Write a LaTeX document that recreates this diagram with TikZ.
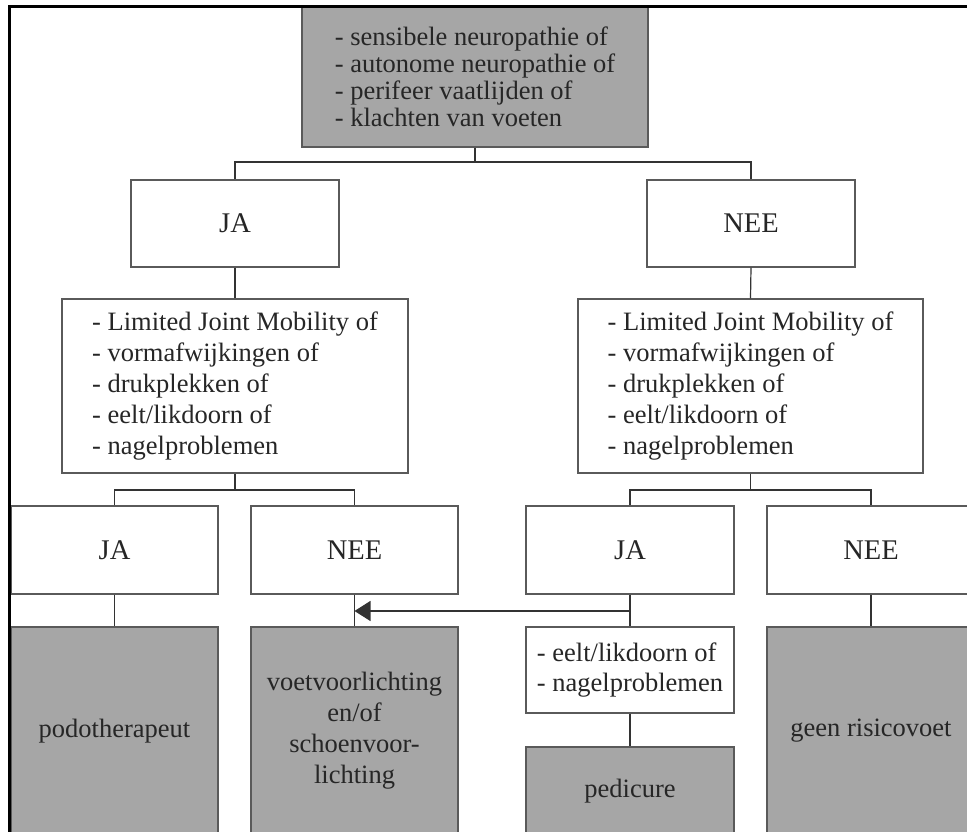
\documentclass[tikz,border=0pt]{standalone}
\usepackage{fontspec}
\setmainfont{Liberation Serif}
\usetikzlibrary{arrows.meta}
\definecolor{boxgray}{HTML}{A6A6A6}
\definecolor{edgegray}{HTML}{5A5A5A}
\definecolor{linegray}{HTML}{333333}
\begin{document}
\begin{tikzpicture}[x=1pt,y=-1pt,
  base/.style={rectangle,draw=edgegray,line width=1.3pt,inner sep=0pt,align=center,
    font=\fontsize{26.5}{31}\selectfont,text=black!85},
  wbox/.style={base,fill=white},
  gbox/.style={base,fill=boxgray},
  yn/.style={font=\fontsize{28.5}{31}\selectfont},
  conn/.style={draw=linegray,line width=1.2pt}]
\useasboundingbox (0,0) rectangle (967,832);
\begin{scope}
\clip (0,0) rectangle (967,832);
\node[gbox,minimum width=346pt,minimum height=140pt,align=left,font=\fontsize{26.5}{27}\selectfont] (top) at (475,77)
  {- sensibele neuropathie of\\- autonome neuropathie of\\- perifeer vaatlijden of\\- klachten van voeten};
\node[wbox,yn,minimum width=208pt,minimum height=87pt] (ja1) at (235,223.5) {JA};
\node[wbox,yn,minimum width=208pt,minimum height=87pt] (nee1) at (751,223.5) {NEE};
\node[wbox,minimum width=346pt,minimum height=174pt,align=left] (crit1) at (235,386)
  {- Limited Joint Mobility of\\- vormafwijkingen of\\- drukplekken of\\- eelt/likdoorn of\\- nagelproblemen};
\node[wbox,minimum width=345pt,minimum height=174pt,align=left] (crit2) at (750.5,386)
  {- Limited Joint Mobility of\\- vormafwijkingen of\\- drukplekken of\\- eelt/likdoorn of\\- nagelproblemen};
\node[wbox,yn,minimum width=207pt,minimum height=88pt] (ja2) at (114.5,550) {JA};
\node[wbox,yn,minimum width=207pt,minimum height=88pt] (nee2) at (354.5,550) {NEE};
\node[wbox,yn,minimum width=208pt,minimum height=88pt] (ja3) at (630,550) {JA};
\node[wbox,yn,minimum width=208pt,minimum height=88pt] (nee3) at (871,550) {NEE};
\node[gbox,minimum width=207pt,minimum height=208pt] (podo) at (114.5,731) {podotherapeut};
\node[gbox,minimum width=207pt,minimum height=208pt] (voet) at (354.5,731)
  {voetvoorlichting\\en/of\\schoenvoor-\\lichting};
\node[wbox,minimum width=208pt,minimum height=86pt,align=left,font=\fontsize{26.5}{30}\selectfont] (eelt) at (630,670)
  {- eelt/likdoorn of\\- nagelproblemen};
\node[gbox,minimum width=208pt,minimum height=88pt] (pedi) at (630,791) {pedicure};
\node[gbox,minimum width=208pt,minimum height=208pt] (geen) at (871,731) {geen risicovoet};
\end{scope}
% junctions
\coordinate (j1) at (475,162);
\coordinate (j2) at (235,490);
\coordinate (j3) at (750.5,490);
\coordinate (a1) at (630,611);
\draw[conn] (top.south) -- (j1);
\draw[conn] (ja1.north) |- (j1) -| (nee1.north);
\draw[conn] (ja1.south) -- (crit1.north);
\draw[conn] (nee1.south) -- (crit2.north);
\draw[conn] (crit1.south) -- (j2);
\draw[conn] (crit2.south) -- (j3);
\draw[conn] (ja2.north) |- (j2) -| (nee2.north);
\draw[conn] (ja3.north) |- (j3) -| (nee3.north);
\draw[conn] (ja2.south) -- (podo.north);
\draw[conn] (nee2.south) -- (voet.north);
\draw[conn] (ja3.south) -- (eelt.north);
\draw[conn] (eelt.south) -- (pedi.north);
\draw[conn] (nee3.south) -- (geen.north);
\draw[conn,-{Triangle[length=16pt,width=20pt]},fill=black] (a1) -- (voet.north |- a1);
% frame
\draw[line width=2.6pt,black] (9.7,832) -- (9.7,6.8) -- (967,6.8);
\end{tikzpicture}
\end{document}
